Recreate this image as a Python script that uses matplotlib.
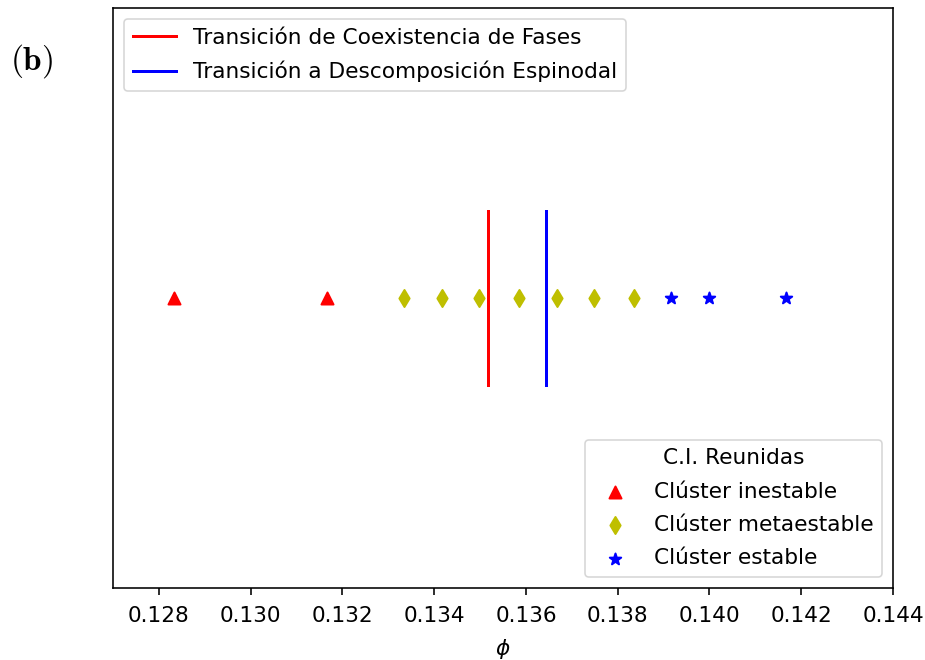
import matplotlib
matplotlib.use("Agg")
import matplotlib.pyplot as plt

# Data
phi_inestable = [0.12834, 0.13166]
phi_metaestable = [0.13334, 0.13416, 0.13498, 0.13584, 0.13667, 0.13749, 0.13835]
phi_estable = [0.13917, 0.14000, 0.14167]
phi_coexistencia = 0.13517
phi_espinodal = 0.13644
xticks = [0.128, 0.130, 0.132, 0.134, 0.136, 0.138, 0.140, 0.142, 0.144]

S = 1.44  # scale from 144 dpi look to 100 dpi
fs = 15.6

fig = plt.figure(figsize=(9.25, 6.6), dpi=100)
ax = fig.add_axes([113/925, 1 - 588/660, (893 - 113)/925, (588 - 8)/660])

l1, = ax.plot([phi_coexistencia, phi_coexistencia], [-0.3, 0.3], color='r', lw=1.5*S,
              label='Transición de Coexistencia de Fases')
l2, = ax.plot([phi_espinodal, phi_espinodal], [-0.3, 0.3], color='b', lw=1.5*S,
              label='Transición a Descomposición Espinodal')

ms = (6*S)**2
s1 = ax.scatter(phi_inestable, [0]*len(phi_inestable), marker='^', color='r', s=ms,
                linewidths=S, label='Clúster inestable', zorder=3)
s2 = ax.scatter(phi_metaestable, [0]*len(phi_metaestable), marker='d', color='y', s=ms,
                linewidths=S, label='Clúster metaestable', zorder=3)
s3 = ax.scatter(phi_estable, [0]*len(phi_estable), marker='*', color='b', s=ms,
                linewidths=S, label='Clúster estable', zorder=3)

ax.set_xlim(0.127, 0.144)
ax.set_ylim(-1, 1)
ax.set_yticks([])
ax.set_xticks(xticks)
ax.set_xticklabels([f"{t:.3f}" for t in xticks])
ax.tick_params(axis='x', labelsize=fs, length=3.5*S, width=0.8*S, pad=5.5*S)
for sp in ax.spines.values():
    sp.set_linewidth(0.8*S)
ax.set_xlabel(r'$\phi$', fontsize=fs, labelpad=5.5*S)

leg1 = ax.legend(handles=[l1, l2], loc='upper left', fontsize=fs, labelspacing=0.62)
leg1.get_frame().set_linewidth(0.8*S)
ax.add_artist(leg1)
leg2 = ax.legend(handles=[s1, s2, s3], loc='lower right', fontsize=fs,
                 title='C.I. Reunidas', title_fontsize=fs, labelspacing=0.62)
leg2.get_frame().set_linewidth(0.8*S)

fig.text(10/925, 1 - 61/660, r'$\mathbf{(b)}$', fontsize=24, va='center', ha='left',
         math_fontfamily='cm')

fig.savefig('out.png', dpi=100)
